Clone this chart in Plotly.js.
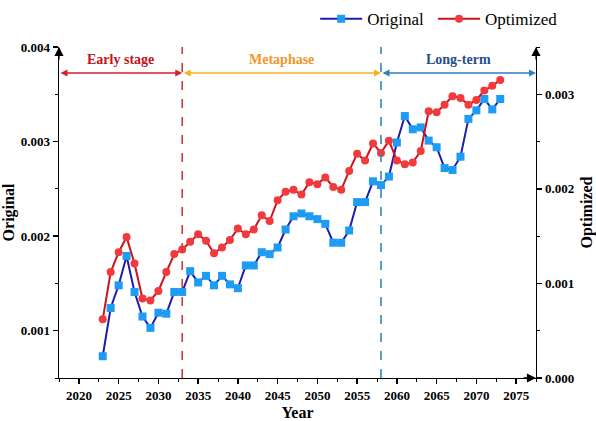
<!DOCTYPE html>
<html>
<head>
<meta charset="utf-8">
<script src="https://cdn.plot.ly/plotly-3.0.1.min.js"></script>
<style>html,body{margin:0;padding:0;background:#fff;}#chart{width:596px;height:421px;}</style>
</head>
<body>
<div id="chart"></div>
<script>
const years = [2023,2024,2025,2026,2027,2028,2029,2030,2031,2032,2033,2034,2035,2036,2037,2038,2039,2040,2041,2042,2043,2044,2045,2046,2047,2048,2049,2050,2051,2052,2053,2054,2055,2056,2057,2058,2059,2060,2061,2062,2063,2064,2065,2066,2067,2068,2069,2070,2071,2072,2073];
const original = [0.00073,0.00124,0.00148,0.00179,0.00141,0.00115,0.00103,0.00119,0.00118,0.00141,0.00141,0.00163,0.00151,0.00158,0.00148,0.00158,0.00149,0.00145,0.00169,0.00169,0.00183,0.00181,0.00188,0.00207,0.00221,0.00224,0.00221,0.00218,0.00213,0.00193,0.00193,0.00206,0.00236,0.00236,0.00258,0.00254,0.00263,0.00299,0.00327,0.00313,0.00315,0.00301,0.00294,0.00272,0.00270,0.00284,0.00324,0.00333,0.00345,0.00334,0.00345];
const optimized = [0.00062,0.00112,0.00133,0.00149,0.00121,0.00084,0.00082,0.00092,0.00112,0.00131,0.00136,0.00144,0.00152,0.00145,0.00132,0.00138,0.00146,0.00158,0.00152,0.00157,0.00172,0.00166,0.00188,0.00197,0.00199,0.00194,0.00207,0.00205,0.00212,0.00202,0.00199,0.00219,0.00237,0.00230,0.00248,0.00238,0.00251,0.00230,0.00226,0.00228,0.00240,0.00282,0.00281,0.00289,0.00298,0.00296,0.00289,0.00294,0.00304,0.00309,0.00315];
const phaseBounds = [2017.5, 2033, 2058, 2077.5];
const phaseNames = ['Early stage','Metaphase','Long-term'];
const phaseTextColors = ['#c0141b','#f0962a','#1f4e8c'];
const phaseArrowColors = ['#d4202a','#f5b41f','#2e7fc0'];

const serif = 'Liberation Serif, Times New Roman, serif';
const traces = [
  {x: years, y: original, name: 'Original\u00a0', type: 'scatter', mode: 'lines+markers', yaxis: 'y',
   line: {color: '#1c1cb0', width: 2}, marker: {symbol: 'square', size: 8, color: '#1e9bf2'}},
  {x: years, y: optimized, name: 'Optimized', type: 'scatter', mode: 'lines+markers', yaxis: 'y2',
   line: {color: '#c8141c', width: 2}, marker: {symbol: 'circle', size: 8, color: '#f23a3c'}}
];

const yLevel = 0.003725; // in left-axis units
const annotations = [];
for (let i = 0; i < 3; i++) {
  annotations.push({x: phaseBounds[i+1], y: yLevel, xref: 'x', yref: 'y', ax: phaseBounds[i], ay: yLevel, axref: 'x', ayref: 'y',
    showarrow: true, text: '', arrowside: 'end+start', arrowhead: 2, startarrowhead: 2, arrowsize: 1, startarrowsize: 1,
    arrowwidth: 1.4, arrowcolor: phaseArrowColors[i], standoff: 0, startstandoff: 0});
  annotations.push({x: (phaseBounds[i] + phaseBounds[i+1]) / 2, y: yLevel, xref: 'x', yref: 'y', yshift: 14, showarrow: false,
    text: '<b>' + phaseNames[i] + '</b>', font: {family: serif, size: 14, color: phaseTextColors[i]}});
}
// axis arrows
annotations.push({x: 2017.5, y: 0.004, xref: 'x', yref: 'y', ax: 0, ay: 14, showarrow: true, text: '', arrowhead: 2, arrowsize: 1.4, arrowwidth: 1.3, arrowcolor: '#000'});
annotations.push({x: 2077.5, y: 0.004, xref: 'x', yref: 'y', ax: 0, ay: 14, showarrow: true, text: '', arrowhead: 2, arrowsize: 1.4, arrowwidth: 1.3, arrowcolor: '#000'});
annotations.push({x: 2077.5, y: 0.0005, xref: 'x', yref: 'y', ax: -14, ay: 0, showarrow: true, text: '', arrowhead: 2, arrowsize: 1.4, arrowwidth: 1.3, arrowcolor: '#000'});

const shapes = [
  {type: 'line', xref: 'x', yref: 'paper', x0: phaseBounds[1], x1: phaseBounds[1], y0: 0, y1: 1, line: {color: '#d4383a', width: 1.6, dash: 'dash'}},
  {type: 'line', xref: 'x', yref: 'paper', x0: phaseBounds[2], x1: phaseBounds[2], y0: 0, y1: 1, line: {color: '#2e86c1', width: 1.6, dash: 'dash'}}
];

const tickFont = {family: serif, size: 13, color: '#000', weight: 'bold'};
const titleFont = {family: serif, size: 16, color: '#000', weight: 'bold'};

const layout = {
  width: 596, height: 421,
  margin: {l: 59, r: 60, t: 47, b: 43, autoexpand: false},
  paper_bgcolor: '#fff', plot_bgcolor: '#fff',
  showlegend: true,
  legend: {orientation: 'h', x: 0.537, xanchor: 'left', y: 1.084, yanchor: 'middle',
    font: {family: serif, size: 17, color: '#000'}, bgcolor: 'rgba(0,0,0,0)', itemwidth: 42},
  xaxis: {range: [2017.5, 2077.5], tick0: 2020, dtick: 5, showgrid: false, zeroline: false,
    showline: true, linecolor: '#000', linewidth: 1.3, ticks: 'outside', ticklen: 5, tickwidth: 1.3, tickcolor: '#000',
    minor: {dtick: 2.5, ticks: 'outside', ticklen: 3, tickwidth: 1, tickcolor: '#000', showgrid: false},
    tickfont: tickFont, title: {text: 'Year', font: titleFont, standoff: 7}},
  yaxis: {range: [0.0005, 0.004], tick0: 0.001, dtick: 0.001, tickformat: '.3f', showgrid: false, zeroline: false,
    showline: true, linecolor: '#000', linewidth: 1.3, ticks: 'outside', ticklen: 5, tickwidth: 1.3, tickcolor: '#000',
    minor: {dtick: 0.0005, ticks: 'outside', ticklen: 3, tickwidth: 1, tickcolor: '#000', showgrid: false},
    tickfont: tickFont, title: {text: 'Original', font: titleFont, standoff: 3}},
  yaxis2: {range: [0, 0.0035], tick0: 0, dtick: 0.001, tickformat: '.3f', overlaying: 'y', side: 'right', showgrid: false, zeroline: false,
    showline: true, linecolor: '#000', linewidth: 1.3, ticks: 'outside', ticklen: 5, tickwidth: 1.3, tickcolor: '#000',
    minor: {dtick: 0.0005, ticks: 'outside', ticklen: 3, tickwidth: 1, tickcolor: '#000', showgrid: false},
    tickfont: tickFont, title: {text: 'Optimized', font: titleFont, standoff: 8}},
  annotations: annotations,
  shapes: shapes
};

Plotly.newPlot('chart', traces, layout, {staticPlot: true, displayModeBar: false});
</script>
</body>
</html>
